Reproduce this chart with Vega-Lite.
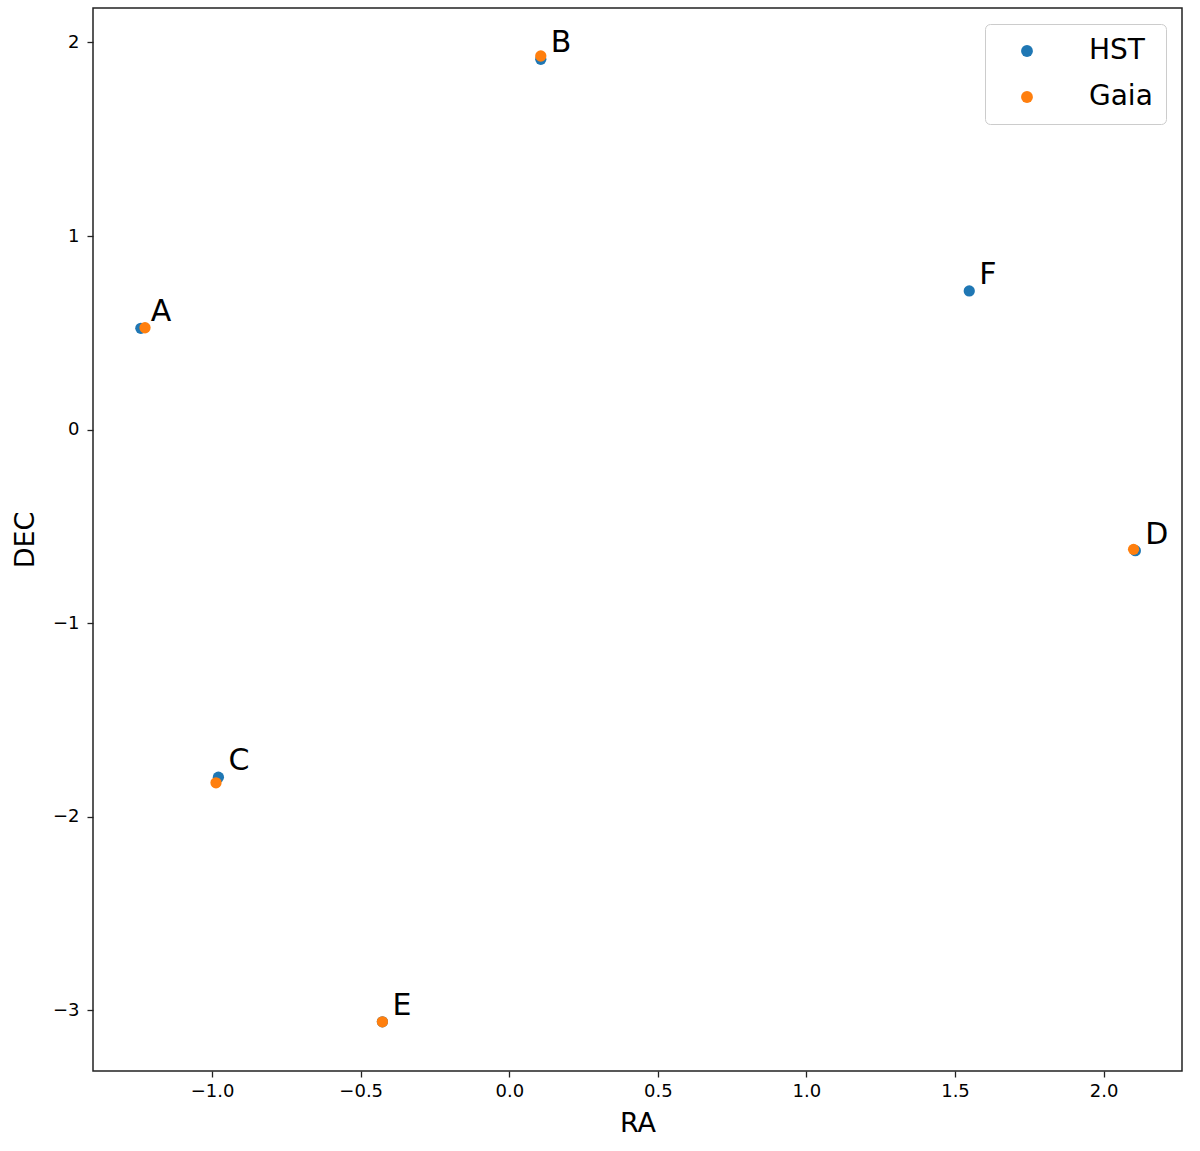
{
  "$schema": "https://vega.github.io/schema/vega-lite/v6.json",
  "autosize": "none",
  "width": 1089,
  "height": 1063,
  "padding": {"left": 93, "top": 8, "right": 18, "bottom": 80},
  "background": "white",
  "config": {
    "font": "DejaVu Sans",
    "view": {"stroke": "#222222", "strokeWidth": 1.5},
    "axis": {
      "domain": false,
      "grid": false,
      "ticks": true,
      "tickColor": "#222222",
      "tickWidth": 1.3,
      "tickSize": 6,
      "labelFont": "DejaVu Sans",
      "labelFontSize": 18,
      "labelColor": "#000000",
      "titleFont": "DejaVu Sans",
      "titleFontSize": 27,
      "titleFontWeight": "normal",
      "titleColor": "#000000"
    },
    "legend": {
      "labelFont": "DejaVu Sans",
      "labelFontSize": 28,
      "labelColor": "#000000"
    }
  },
  "data": {
    "values": [
      {"source": "HST", "name": "A", "ra": -1.240, "dec": 0.523},
      {"source": "HST", "name": "B", "ra": 0.106, "dec": 1.913},
      {"source": "HST", "name": "C", "ra": -0.979, "dec": -1.796},
      {"source": "HST", "name": "D", "ra": 2.107, "dec": -0.626},
      {"source": "HST", "name": "E", "ra": -0.427, "dec": -3.060},
      {"source": "HST", "name": "F", "ra": 1.548, "dec": 0.716},
      {"source": "Gaia", "name": "A", "ra": -1.226, "dec": 0.526},
      {"source": "Gaia", "name": "B", "ra": 0.106, "dec": 1.930},
      {"source": "Gaia", "name": "C", "ra": -0.987, "dec": -1.825},
      {"source": "Gaia", "name": "D", "ra": 2.101, "dec": -0.619},
      {"source": "Gaia", "name": "E", "ra": -0.427, "dec": -3.060}
    ]
  },
  "layer": [
    {
      "mark": {"type": "point", "filled": true, "opacity": 1, "size": 127, "shape": "circle"},
      "encoding": {
        "x": {
          "field": "ra", "type": "quantitative",
          "scale": {"domain": [-1.401, 2.264], "nice": false, "zero": false},
          "axis": {"title": "RA", "values": [-1.0, -0.5, 0.0, 0.5, 1.0, 1.5, 2.0], "format": ".1f", "labelPadding": 5, "titlePadding": 10}
        },
        "y": {
          "field": "dec", "type": "quantitative",
          "scale": {"domain": [-3.314, 2.178], "nice": false, "zero": false},
          "axis": {"title": "DEC", "values": [-3, -2, -1, 0, 1, 2], "format": "d", "labelPadding": 8, "titlePadding": 13}
        },
        "color": {
          "field": "source", "type": "nominal",
          "scale": {"domain": ["HST", "Gaia"], "range": ["#1f77b4", "#ff7f0e"]},
          "legend": {
            "title": null,
            "orient": "none",
            "legendX": 892,
            "legendY": 16,
            "padding": 13,
            "symbolOffset": 15,
            "symbolSize": 140,
            "symbolType": "circle",
            "labelOffset": 48,
            "rowPadding": 18,
            "fillColor": "white",
            "strokeColor": "#cccccc",
            "cornerRadius": 5
          }
        },
        "order": {"field": "source", "sort": "descending"}
      }
    },
    {
      "transform": [{"filter": "datum.source === 'HST'"}],
      "mark": {"type": "text", "align": "left", "baseline": "alphabetic", "dx": 10, "dy": -7, "fontSize": 30, "font": "DejaVu Sans", "color": "#000000"},
      "encoding": {
        "x": {"field": "ra", "type": "quantitative"},
        "y": {"field": "dec", "type": "quantitative"},
        "text": {"field": "name"}
      }
    }
  ]
}
